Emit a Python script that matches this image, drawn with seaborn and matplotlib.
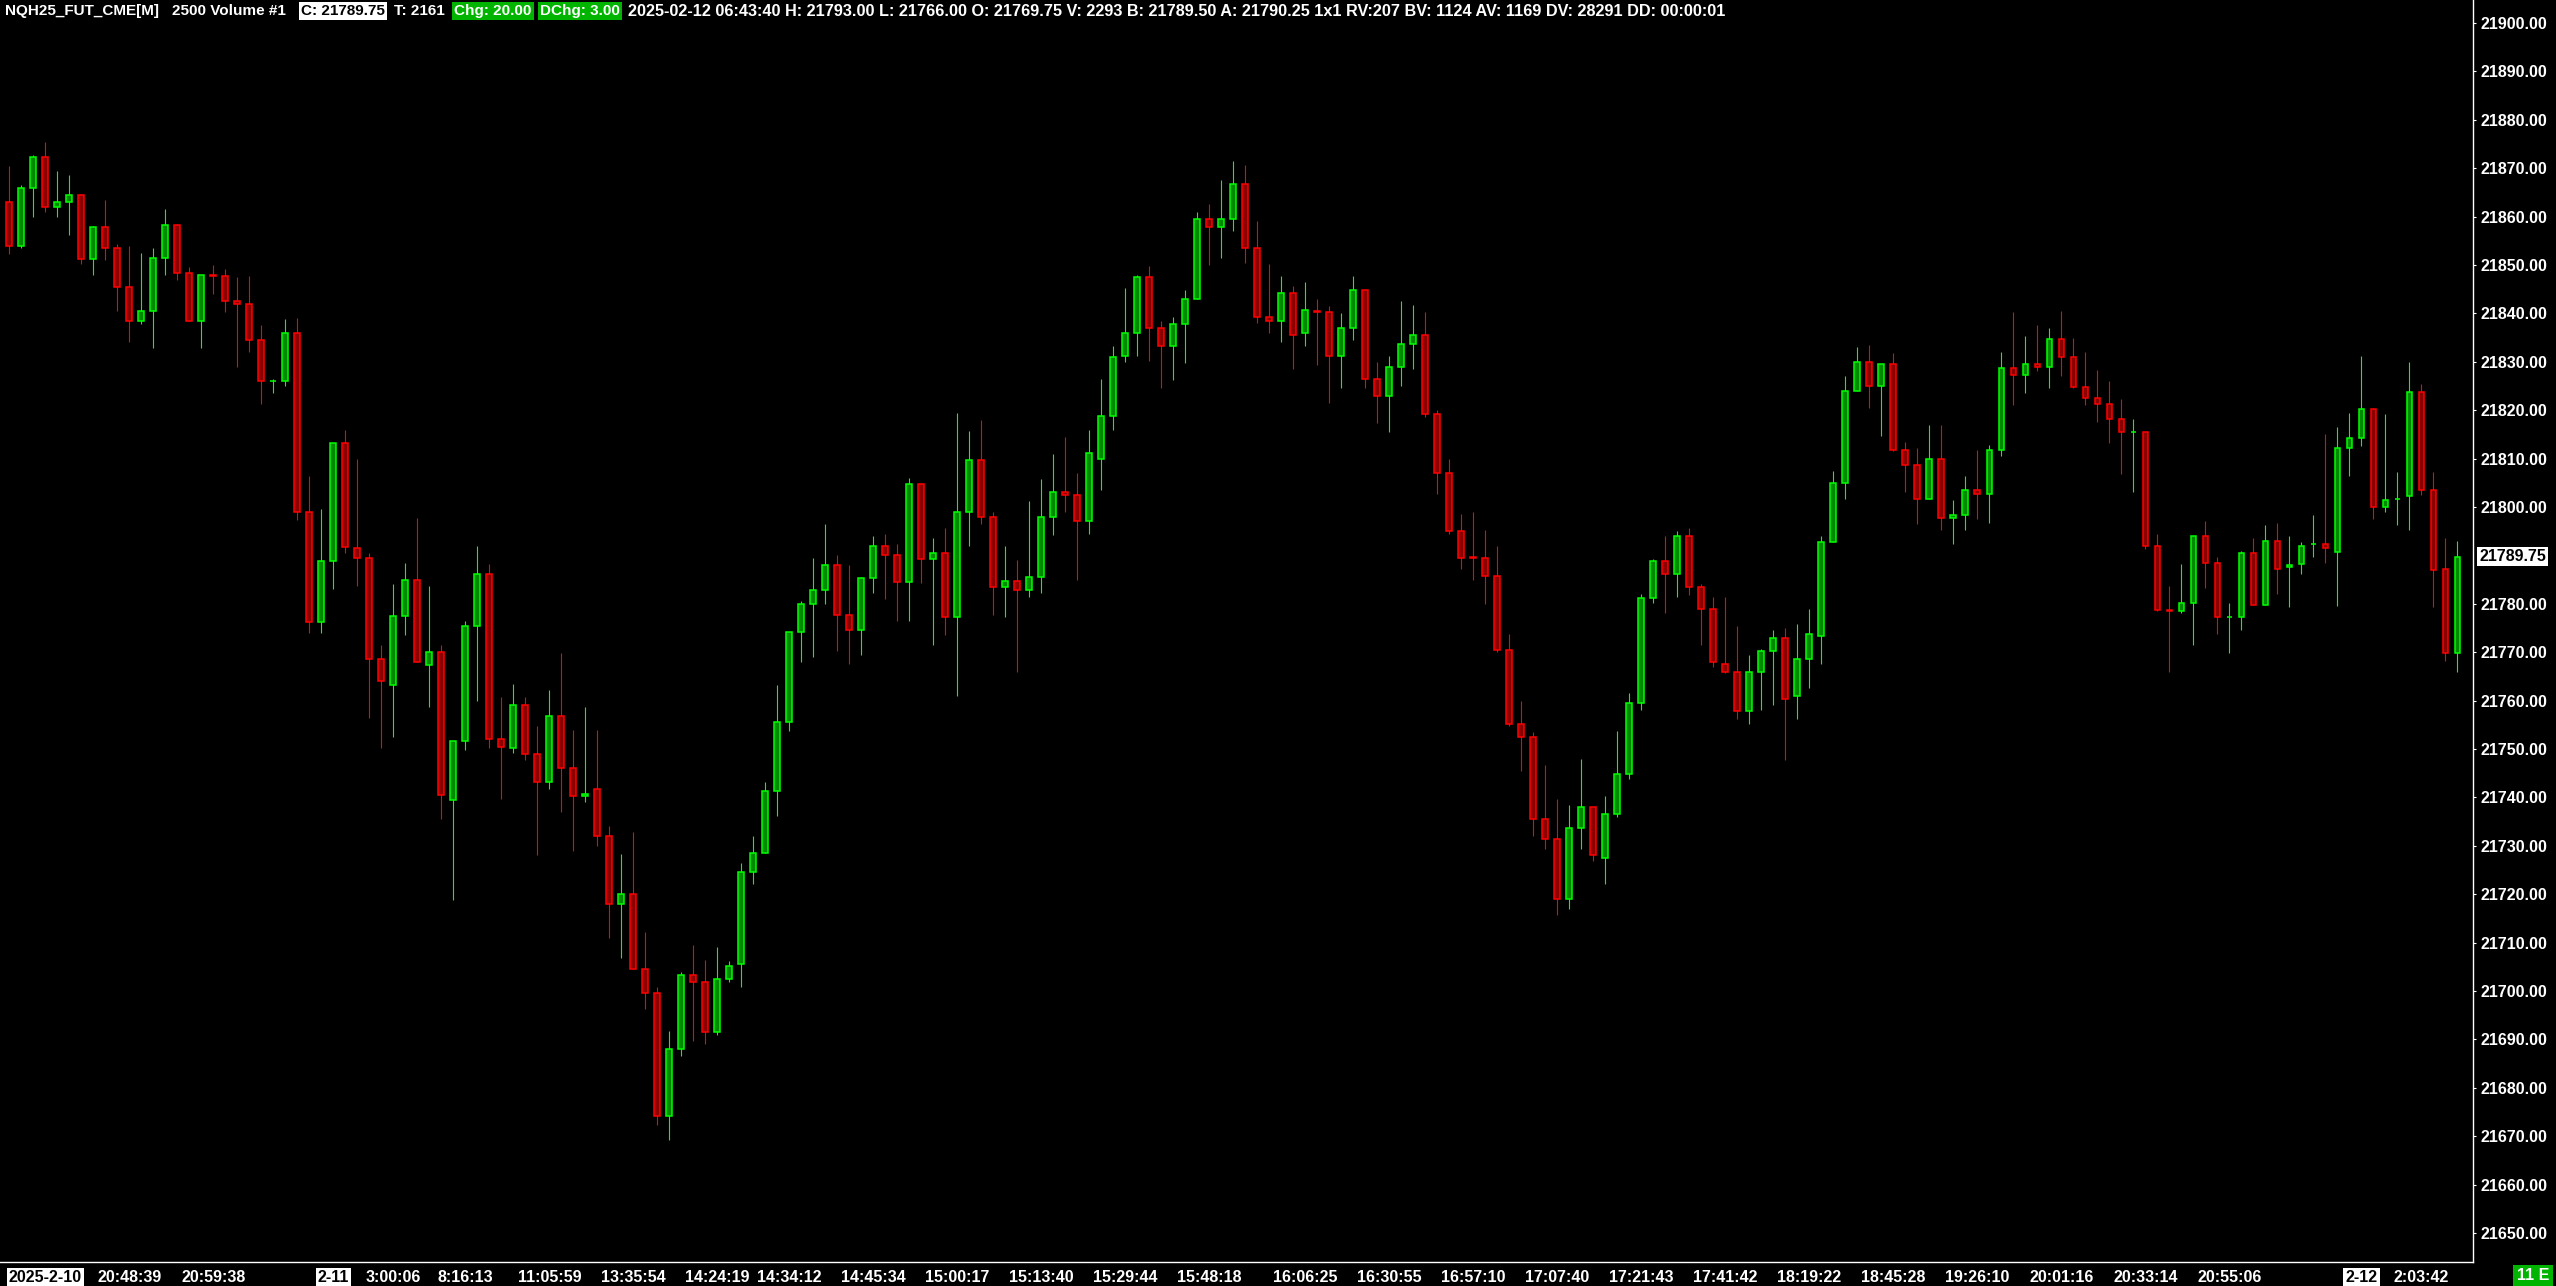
import matplotlib
matplotlib.use("Agg")
import matplotlib.pyplot as plt
import matplotlib.transforms as mtransforms
import numpy as np
import pandas as pd
import seaborn as sns

# NQH25 2500-volume bars
opens = [
    21863.0, 21854.0, 21866.0, 21872.25, 21862.0, 21863.0, 21864.5, 21851.25, 21857.75, 21853.5,
    21845.5, 21838.5, 21840.5, 21851.5, 21858.25, 21848.25, 21838.5, 21848.0, 21847.75, 21842.5,
    21842.0, 21834.5, 21826.0, 21826.0, 21836.0, 21799.0, 21776.25, 21788.75, 21813.25, 21791.5,
    21789.5, 21768.5, 21763.25, 21777.5, 21785.0, 21767.25, 21770.0, 21739.5, 21751.75, 21775.5,
    21786.25, 21752.0, 21750.25, 21759.0, 21749.0, 21743.25, 21756.75, 21746.0, 21740.25, 21741.75,
    21732.0, 21718.0, 21720.0, 21704.5, 21699.5, 21674.25, 21688.0, 21703.25, 21701.75, 21691.5,
    21702.5, 21705.5, 21724.5, 21728.5, 21741.25, 21755.5, 21774.25, 21780.0, 21782.75, 21788.0,
    21777.75, 21774.5, 21785.25, 21792.0, 21790.0, 21784.5, 21804.75, 21789.25, 21790.5, 21777.25,
    21799.0, 21809.75, 21798.0, 21783.5, 21784.75, 21782.75, 21785.5, 21798.0, 21803.0, 21802.5,
    21797.0, 21810.0, 21818.75, 21831.25, 21836.0, 21847.5, 21837.0, 21833.25, 21837.75, 21843.0,
    21859.5, 21857.75, 21859.5, 21866.75, 21853.5, 21839.25, 21838.5, 21844.25, 21836.0, 21840.5,
    21840.25, 21831.25, 21837.0, 21844.75, 21826.5, 21823.0, 21829.0, 21833.75, 21835.5, 21819.25,
    21807.0, 21795.0, 21789.75, 21789.5, 21785.75, 21770.5, 21755.25, 21752.5, 21735.5, 21731.5,
    21719.0, 21733.75, 21738.0, 21727.5, 21736.5, 21744.75, 21759.5, 21781.25, 21788.75, 21786.25,
    21794.0, 21783.5, 21779.0, 21767.5, 21766.0, 21757.75, 21766.0, 21770.25, 21773.0, 21761.0,
    21768.5, 21773.25, 21792.75, 21805.0, 21824.0, 21830.0, 21825.0, 21829.5, 21811.75, 21808.75,
    21801.75, 21810.0, 21797.75, 21798.25, 21803.5, 21802.75, 21811.75, 21828.75, 21827.25, 21829.5,
    21829.0, 21834.75, 21831.0, 21824.75, 21822.5, 21821.25, 21818.25, 21815.5, 21815.5, 21792.0,
    21778.75, 21778.5, 21780.25, 21794.0, 21788.5, 21777.25, 21777.25, 21790.5, 21779.75, 21793.0,
    21787.5, 21788.25, 21792.25, 21792.25, 21790.75, 21812.25, 21814.25, 21820.25, 21800.0, 21801.75,
    21802.25, 21823.75, 21803.5, 21787.25, 21769.75,
]

highs = [
    21870.5, 21866.5, 21872.75, 21875.5, 21869.5, 21868.5, 21864.75, 21858.0, 21863.5, 21854.25,
    21854.0, 21852.5, 21853.5, 21861.5, 21858.5, 21849.5, 21848.0, 21850.0, 21849.25, 21847.5,
    21847.75, 21837.5, 21826.5, 21838.75, 21839.0, 21806.5, 21799.5, 21813.25, 21816.0, 21810.0,
    21790.5, 21771.5, 21784.0, 21788.5, 21797.75, 21783.75, 21771.5, 21751.75, 21776.5, 21792.0,
    21788.25, 21760.75, 21763.5, 21760.75, 21754.75, 21762.25, 21769.75, 21754.0, 21758.75, 21754.0,
    21734.0, 21728.25, 21732.75, 21712.25, 21700.75, 21691.75, 21704.0, 21709.5, 21706.5, 21709.0,
    21706.25, 21726.5, 21732.0, 21743.25, 21763.25, 21774.25, 21780.5, 21789.5, 21796.5, 21790.0,
    21788.0, 21785.5, 21794.0, 21794.5, 21792.25, 21806.0, 21805.0, 21793.5, 21795.75, 21819.5,
    21815.75, 21818.0, 21799.0, 21792.0, 21789.0, 21801.25, 21805.75, 21811.0, 21814.5, 21807.0,
    21816.0, 21826.5, 21833.25, 21845.25, 21848.0, 21849.75, 21838.5, 21839.25, 21844.75, 21861.0,
    21862.5, 21867.5, 21871.5, 21870.75, 21859.0, 21850.25, 21847.75, 21845.75, 21846.5, 21843.0,
    21841.5, 21840.0, 21847.75, 21844.75, 21830.0, 21831.25, 21842.5, 21841.75, 21840.25, 21820.0,
    21810.0, 21798.5, 21799.0, 21795.25, 21792.0, 21773.75, 21760.0, 21753.5, 21746.75, 21739.75,
    21738.5, 21748.0, 21738.0, 21740.25, 21753.75, 21761.5, 21782.0, 21789.25, 21794.0, 21795.0,
    21795.75, 21784.0, 21781.5, 21781.5, 21775.5, 21769.5, 21770.75, 21774.5, 21775.0, 21775.75,
    21779.0, 21794.0, 21807.5, 21827.0, 21833.0, 21833.5, 21829.5, 21831.75, 21813.5, 21812.25,
    21817.0, 21817.0, 21801.5, 21806.5, 21811.75, 21812.75, 21832.0, 21840.25, 21835.25, 21837.5,
    21837.0, 21840.5, 21835.0, 21832.0, 21828.25, 21826.0, 21822.25, 21818.25, 21815.5, 21794.5,
    21783.75, 21788.25, 21794.0, 21797.0, 21789.75, 21780.25, 21791.0, 21793.5, 21796.25, 21796.75,
    21794.0, 21792.75, 21798.25, 21815.0, 21816.5, 21819.5, 21831.25, 21820.5, 21819.25, 21807.25,
    21830.0, 21825.5, 21807.25, 21793.5, 21793.0,
]

lows = [
    21852.25, 21853.5, 21860.0, 21861.0, 21860.0, 21856.25, 21850.25, 21848.0, 21851.0, 21840.5,
    21834.0, 21837.75, 21832.75, 21848.0, 21847.0, 21838.5, 21832.75, 21844.0, 21840.25, 21829.0,
    21832.0, 21821.25, 21823.5, 21825.0, 21797.25, 21774.0, 21774.0, 21783.0, 21790.5, 21783.75,
    21756.5, 21750.25, 21752.5, 21773.5, 21768.0, 21758.75, 21735.5, 21718.75, 21749.75, 21760.0,
    21750.25, 21739.75, 21749.25, 21747.75, 21728.0, 21741.75, 21737.0, 21729.0, 21739.0, 21730.0,
    21711.0, 21706.75, 21704.5, 21696.25, 21672.25, 21669.25, 21686.5, 21689.75, 21689.0, 21691.0,
    21701.75, 21700.75, 21722.0, 21728.5, 21736.25, 21753.75, 21768.0, 21769.0, 21780.0, 21770.25,
    21767.5, 21769.5, 21782.25, 21781.0, 21776.5, 21776.5, 21784.25, 21771.5, 21773.5, 21761.0,
    21792.0, 21796.5, 21777.75, 21777.25, 21766.0, 21781.5, 21782.25, 21794.25, 21799.0, 21785.0,
    21794.5, 21803.5, 21816.0, 21830.0, 21831.25, 21830.25, 21824.5, 21826.25, 21829.75, 21843.0,
    21850.0, 21851.5, 21857.0, 21850.5, 21838.0, 21836.0, 21834.0, 21828.5, 21833.25, 21829.25,
    21821.5, 21824.5, 21834.5, 21824.5, 21817.25, 21815.5, 21825.0, 21828.5, 21818.5, 21802.75,
    21794.5, 21787.25, 21785.0, 21780.0, 21770.0, 21754.75, 21745.5, 21732.0, 21729.25, 21715.75,
    21717.0, 21729.25, 21726.75, 21722.0, 21736.0, 21743.75, 21758.0, 21780.25, 21778.0, 21781.5,
    21781.75, 21771.5, 21767.0, 21765.75, 21756.25, 21755.25, 21758.0, 21759.0, 21747.75, 21756.25,
    21762.5, 21767.5, 21792.75, 21801.75, 21824.0, 21820.5, 21814.75, 21811.5, 21803.0, 21796.5,
    21801.75, 21795.25, 21792.25, 21795.25, 21797.5, 21796.75, 21810.5, 21821.0, 21823.5, 21828.0,
    21824.5, 21827.0, 21824.5, 21821.0, 21817.5, 21813.25, 21806.75, 21803.0, 21791.25, 21778.5,
    21766.0, 21778.0, 21771.5, 21783.25, 21773.75, 21769.75, 21774.5, 21779.75, 21779.75, 21782.0,
    21779.25, 21786.25, 21789.75, 21788.5, 21779.5, 21806.5, 21812.5, 21797.5, 21799.0, 21796.25,
    21795.25, 21802.5, 21779.25, 21768.25, 21766.0,
]

closes = [
    21854.0, 21866.0, 21872.25, 21862.0, 21863.0, 21864.5, 21851.25, 21857.75, 21853.5, 21845.5,
    21838.5, 21840.5, 21851.5, 21858.25, 21848.25, 21838.5, 21848.0, 21847.75, 21842.5, 21842.0,
    21834.5, 21826.0, 21826.0, 21836.0, 21799.0, 21776.25, 21788.75, 21813.25, 21791.75, 21789.5,
    21768.5, 21764.0, 21777.5, 21785.0, 21768.0, 21770.0, 21740.5, 21751.75, 21775.5, 21786.25,
    21752.0, 21750.5, 21759.0, 21749.0, 21743.25, 21756.75, 21746.0, 21740.25, 21740.75, 21732.0,
    21718.0, 21720.0, 21704.5, 21699.5, 21674.25, 21688.0, 21703.25, 21701.75, 21691.5, 21702.5,
    21705.25, 21724.5, 21728.5, 21741.25, 21755.5, 21774.25, 21780.0, 21782.75, 21788.0, 21777.75,
    21774.5, 21785.25, 21792.0, 21790.0, 21784.5, 21804.75, 21789.25, 21790.5, 21777.25, 21799.0,
    21809.75, 21798.0, 21783.5, 21784.75, 21782.75, 21785.5, 21798.0, 21803.0, 21802.5, 21797.0,
    21811.25, 21818.75, 21831.0, 21836.0, 21847.5, 21837.0, 21833.25, 21837.75, 21843.0, 21859.5,
    21857.75, 21859.5, 21866.75, 21853.5, 21839.25, 21838.5, 21844.25, 21835.5, 21840.75, 21840.25,
    21831.25, 21837.0, 21844.75, 21826.5, 21823.0, 21829.0, 21833.75, 21835.5, 21819.25, 21807.0,
    21795.0, 21789.5, 21789.5, 21785.75, 21770.5, 21755.25, 21752.5, 21735.5, 21731.5, 21719.0,
    21733.75, 21738.0, 21728.0, 21736.5, 21744.75, 21759.5, 21781.25, 21788.75, 21786.25, 21794.0,
    21783.5, 21779.0, 21768.0, 21766.0, 21757.75, 21766.0, 21770.25, 21773.0, 21760.25, 21768.5,
    21773.75, 21792.75, 21805.0, 21824.0, 21830.0, 21825.0, 21829.5, 21811.75, 21808.75, 21801.75,
    21810.0, 21797.75, 21798.25, 21803.5, 21802.75, 21811.75, 21828.75, 21827.25, 21829.5, 21829.0,
    21834.75, 21831.0, 21824.75, 21822.5, 21821.25, 21818.25, 21815.5, 21815.5, 21792.0, 21778.75,
    21778.5, 21780.25, 21794.0, 21788.5, 21777.25, 21777.25, 21790.5, 21779.75, 21793.0, 21787.25,
    21788.0, 21792.0, 21792.25, 21791.5, 21812.25, 21814.25, 21820.25, 21800.0, 21801.5, 21801.75,
    21823.75, 21803.5, 21787.0, 21769.75, 21789.75,
]

# time axis labels: bar number (1 based) -> label
tick_bars = [4, 11, 18, 28, 33, 39, 46, 53, 60, 66, 73, 80, 87, 94, 101,
             109, 116, 123, 130, 137, 144, 151, 158, 165, 172, 179, 186, 197, 202]
tick_labels = ["2025-2-10", "20:48:39", "20:59:38", "2-11", "3:00:06", "8:16:13",
               "11:05:59", "13:35:54", "14:24:19", "14:34:12", "14:45:34", "15:00:17",
               "15:13:40", "15:29:44", "15:48:18", "16:06:25", "16:30:55", "16:57:10",
               "17:07:40", "17:21:43", "17:41:42", "18:19:22", "18:45:28", "19:26:10",
               "20:01:16", "20:33:14", "20:55:06", "2-12", "2:03:42"]
date_labels = ["2025-2-10", "2-11", "2-12"]

price_ticks = [p for p in range(21650, 21901, 10) if p != 21790]
last_price = 21789.75

header_parts = [
    ("NQH25_FUT_CME[M]", 5, None, 11),
    ("2500 Volume #1", 172, None, 11),
    ("C: 21789.75", 301, "white", 11),
    ("T: 2161", 394, None, 11),
    ("Chg: 20.00", 454, "green", 11),
    ("DChg: 3.00", 540, "green", 11),
    ("2025-02-12 06:43:40 H: 21793.00 L: 21766.00 O: 21769.75 V: 2293 B: 21789.50 "
     "A: 21790.25 1x1 RV:207 BV: 1124 AV: 1169 DV: 28291 DD: 00:00:01", 628, None, 11.7),
]

assert len(opens) == len(highs) == len(lows) == len(closes)

UP_EDGE = "#00ff00"
UP_FILL = "#008a00"
DN_EDGE = "#ff0000"
DN_FILL = "#8c0000"
BOX_GREEN = "#00b400"

sns.set_theme(style="dark", rc={"axes.facecolor": "black", "figure.facecolor": "black",
                                "axes.grid": False})
plt.rcParams["font.family"] = ["Liberation Sans", "DejaVu Sans"]

df = pd.DataFrame({"open": opens, "high": highs, "low": lows, "close": closes})
df["bar"] = np.arange(len(df))
df["up"] = df["close"] >= df["open"]
df["body_lo"] = df[["open", "close"]].min(axis=1)
df["body_h"] = (df["open"] - df["close"]).abs()
edge = np.where(df["up"], UP_EDGE, DN_EDGE)
fill = np.where(df["up"], UP_FILL, DN_FILL)

W, H = 2556, 1286
fig = plt.figure(figsize=(W / 100, H / 100), dpi=100)
ax = fig.add_axes([0, 24 / H, 2473 / W, 1262 / H])
ax.set_facecolor("black")

# wicks then bodies
ax.vlines(df["bar"], df["low"], df["high"], colors=edge, linewidth=0.8, zorder=2)
ax.bar(df["bar"], df["body_h"], bottom=df["body_lo"], width=0.48,
       color=fill, edgecolor=edge, linewidth=1.1, zorder=3)

ax.set_xlim(-0.775, 205.3)
ax.set_ylim(21644.0, 21904.75)

# price axis on the right
ax.yaxis.tick_right()
ax.set_yticks(price_ticks)
ax.set_yticklabels([f"{p:.2f}" for p in price_ticks])
ax.tick_params(axis="y", colors="white", direction="out", length=2.5, width=0.8,
               pad=3, labelsize=11.5)
for lbl in ax.get_yticklabels():
    lbl.set_fontweight("bold")

# time axis
ax.set_xticks([b - 1 for b in tick_bars])
ax.set_xticklabels(tick_labels)
ax.tick_params(axis="x", colors="white", direction="out", length=2.5, width=0.8,
               pad=3, labelsize=11.5)
for lbl in ax.get_xticklabels():
    lbl.set_fontweight("bold")
    if lbl.get_text() in date_labels:
        lbl.set_color("black")
        lbl.set_bbox(dict(facecolor="white", edgecolor="none", pad=1.5))

for side in ["left", "top"]:
    ax.spines[side].set_visible(False)
for side in ["right", "bottom"]:
    ax.spines[side].set_color("white")
    ax.spines[side].set_linewidth(1.0)

# last price marker on the price scale
trans = mtransforms.blended_transform_factory(ax.transAxes, ax.transData)
ax.annotate(f"{last_price:.2f}", xy=(1.0, last_price), xycoords=trans,
            xytext=(6, 0), textcoords="offset pixels", ha="left", va="center",
            color="black", fontsize=11.5, fontweight="bold",
            bbox=dict(facecolor="white", edgecolor="none", pad=1.5))

# header line
for text, x, box, size in header_parts:
    kw = {}
    color = "white"
    if box == "white":
        kw["bbox"] = dict(facecolor="white", edgecolor="none", pad=1.5)
        color = "black"
    elif box == "green":
        kw["bbox"] = dict(facecolor=BOX_GREEN, edgecolor="none", pad=1.5)
    fig.text(x / W, 1 - 11 / H, text, ha="left", va="center", color=color,
             fontsize=size, fontweight="bold", **kw)

fig.text(2533 / W, 10 / H, "11 E", ha="center", va="center", color="white",
         fontsize=11.5, fontweight="bold",
         bbox=dict(facecolor=BOX_GREEN, edgecolor="none", pad=2.5))

fig.savefig("out.png", dpi=100, facecolor="black")
plt.close(fig)
